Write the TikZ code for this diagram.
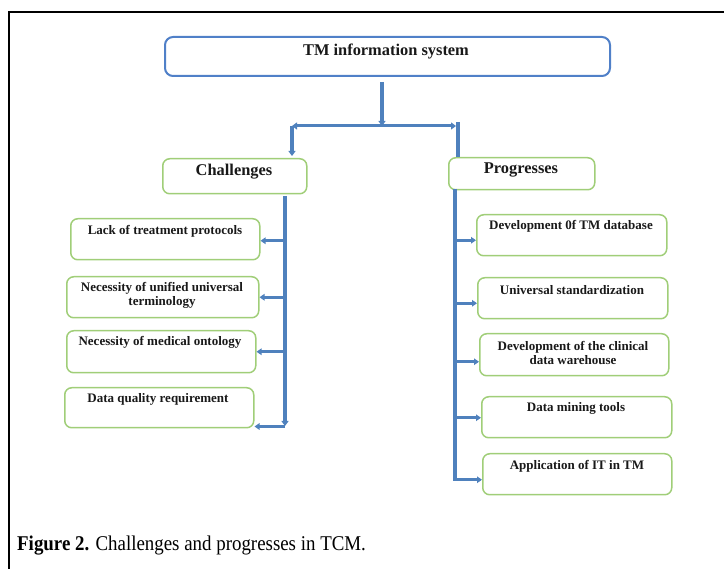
\documentclass[tikz,border=0pt]{standalone}
\usepackage{fontspec}
\setmainfont{Liberation Serif}
\usetikzlibrary{arrows.meta,calc}
\definecolor{lineblue}{RGB}{79,129,189}
\definecolor{boxblue}{RGB}{80,128,200}
\definecolor{boxgreen}{RGB}{160,206,120}
\definecolor{txt}{RGB}{25,25,25}
\begin{document}
\begin{tikzpicture}[x=1pt,y=-1pt,
  gbox/.style={draw=boxgreen, line width=1.5pt, rounded corners=7pt, fill=white, inner sep=0pt, anchor=north west},
  bbox/.style={draw=boxblue, line width=2pt, rounded corners=8pt, fill=white, inner sep=0pt, anchor=north west},
  headtext/.style={font=\bfseries\fontsize{16.4}{18}\selectfont, text=txt, inner sep=0pt},
  itemtext/.style={font=\bfseries\fontsize{13}{14}\selectfont, text=txt, align=center, inner sep=0pt},
  conn/.style={draw=lineblue, line width=3.5pt},
  trunk/.style={draw=lineblue, line width=4.5pt},
  tip/.style={-{Triangle[length=5pt,width=7pt]}},
  branch/.style={draw=lineblue, line width=3pt, -{Triangle[length=5pt,width=6.5pt]}}
]
\useasboundingbox (0,0) rectangle (724,569);
% frame
\draw[line width=2.6pt, black] (9,569) -- (9,12) -- (724,12);

% top box
\node[bbox, minimum width=445pt, minimum height=39pt] (top) at (164,36) {};
\node[headtext] (topt) at (386,52) {TM information system};

% heading boxes
\node[gbox, minimum width=144pt, minimum height=35pt] (ch) at (162,158) {};
\node[headtext] (cht) at (234,172) {Challenges};
\node[gbox, minimum width=146pt, minimum height=32pt] (pr) at (448,157) {};
\node[headtext] (prt) at (521,170) {Progresses};

% top connectors
\coordinate (tA) at (382,82);
\coordinate (jC) at (382,126);
\coordinate (jL) at (292,126);
\coordinate (jR) at (456,126);
\coordinate (rb) at (458,122);
\draw[conn, tip] (tA) -- (jC);
\draw[conn, line width=3pt, tip] (jC) -- (jL);
\draw[conn, line width=3pt, tip] (jC) -- (jR);
\draw[conn, tip] (jL) -- ($(ch.north -| jL)+(0,-2)$);
\draw[trunk] (rb) -- (pr.north -| rb);

% challenge boxes
\node[gbox, minimum width=189pt, minimum height=41pt] (c1) at (70,218) {};
\node[itemtext] (c1t) at (165,231) {Lack of treatment protocols};
\node[gbox, minimum width=192pt, minimum height=41pt] (c2) at (66,276) {};
\node[itemtext] (c2t) at (162,295) {Necessity of unified universal\\terminology};
\node[gbox, minimum width=189pt, minimum height=42pt] (c3) at (66,330) {};
\node[itemtext] (c3t) at (160,342) {Necessity of medical ontology};
\node[gbox, minimum width=189pt, minimum height=40pt] (c4) at (64,387) {};
\node[itemtext] (c4t) at (158,399) {Data quality requirement};

% challenge trunk
\coordinate (ctr) at (285,196);
\coordinate (cbot) at (285,426);
\draw[trunk, tip] (ctr) -- (cbot);
\coordinate (c1a) at ($(c1.east)+(0,1.5)$);
\coordinate (c2a) at (c2.east);
\coordinate (c3a) at (c3.east);
\coordinate (c4a) at ($(c4.south east)+(0,-2)$);
\draw[branch] (c1a -| ctr) -- (c1a);
\draw[branch] (c2a -| ctr) -- (c2a);
\draw[branch] (c3a -| ctr) -- (c3a);
\draw[branch] (c4a -| ctr) -- (c4a);

% progress boxes
\node[gbox, minimum width=190pt, minimum height=41pt] (p1) at (476,214) {};
\node[itemtext] (p1t) at (571,226) {Development 0f TM database};
\node[gbox, minimum width=190pt, minimum height=41pt] (p2) at (477,277) {};
\node[itemtext] (p2t) at (572,290) {Universal standardization};
\node[gbox, minimum width=189pt, minimum height=42pt] (p3) at (479,333) {};
\node[itemtext] (p3t) at (573,353) {Development of the clinical\\data warehouse};
\node[gbox, minimum width=190pt, minimum height=41pt] (p4) at (481,396) {};
\node[itemtext] (p4t) at (576,408) {Data mining tools};
\node[gbox, minimum width=189pt, minimum height=41pt] (p5) at (482,453) {};
\node[itemtext] (p5t) at (577,466) {Application of IT in TM};

% progress trunk
\coordinate (ptr) at (455,189);
\coordinate (pbot) at (455,481);
\draw[trunk] (ptr) -- (pbot);
\coordinate (p1a) at ($(p1.west)+(0,5)$);
\coordinate (p2a) at ($(p2.west)+(0,5)$);
\coordinate (p3a) at ($(p3.west)+(0,7)$);
\coordinate (p4a) at ($(p4.west)+(0,0.5)$);
\coordinate (p5a) at ($(p5.west)+(0,5.5)$);
\draw[branch] (p1a -| ptr) -- (p1a);
\draw[branch] (p2a -| ptr) -- (p2a);
\draw[branch] (p3a -| ptr) -- (p3a);
\draw[branch] (p4a -| ptr) -- (p4a);
\draw[branch] (p5a -| ptr) -- (p5a);

% caption
\node[anchor=base west, inner sep=0pt] (cap) at (17,551) {\scalebox{0.9}[1]{\fontsize{21}{24}\selectfont\textbf{Figure 2.} Challenges and progresses in TCM.}};
\end{tikzpicture}
\end{document}
